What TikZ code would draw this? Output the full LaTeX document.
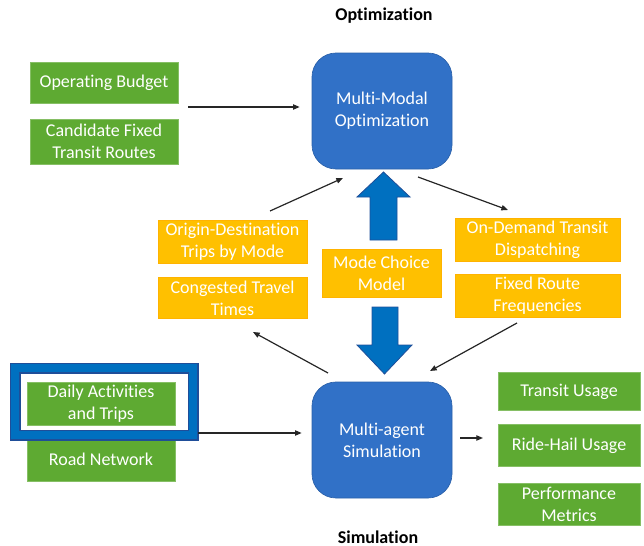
\documentclass[tikz,border=0pt]{standalone}
\usepackage{fontspec}
\setmainfont{Carlito}[Ligatures=NoCommon]
\definecolor{boxgreen}{RGB}{94, 170, 50}
\definecolor{boxgold}{RGB}{255, 192, 0}
\definecolor{modelblue}{RGB}{49, 113, 199}
\definecolor{arrowblue}{RGB}{0, 112, 192}
\definecolor{edgeblue}{RGB}{31, 78, 153}
\usetikzlibrary{arrows.meta, positioning, calc}

\tikzset{
  inbox/.style={fill=boxgreen, draw=boxgreen!75!white, line width=0.6pt, text=white, align=center, inner sep=0pt},
  midbox/.style={fill=boxgold, draw=boxgold!80!orange, line width=0.6pt, text=white, align=center, inner sep=0pt},
  modelbox/.style={fill=modelblue, draw=modelblue!85!black, line width=0.5pt, rounded corners=18pt, text=white, align=center,
    minimum width=105pt, minimum height=87pt},
  flow/.style={-{Triangle[length=5pt, width=4pt]}, line width=0.9pt, black!85},
  bigarrow/.style={fill=arrowblue, draw=edgeblue, line width=0.6pt},
}

\begin{document}
\begin{tikzpicture}[x=0.75pt, y=-0.75pt, font=\fontsize{13.5}{16.5}\selectfont]
  \useasboundingbox (0,0) rectangle (644,546);

  % headings
  \node[font=\fontsize{13.5}{16.5}\selectfont\bfseries] (opthead) at (384,16) {Optimization};
  \node[font=\fontsize{13.5}{16.5}\selectfont\bfseries] (simhead) at (378,537) {Simulation};

  % the two models
  \node[modelbox] (mmo) at (382,111) {Multi-Modal\\Optimization};
  \node[modelbox] (mas) at (382,440) {Multi-agent\\Simulation};

  % optimization inputs
  \node[inbox, minimum width=111pt, minimum height=30.75pt] (budget) at (104,83) {Operating Budget};
  \node[inbox, minimum width=111pt, minimum height=33.75pt] (routes) at (104,141.5) {Candidate Fixed\\Transit Routes};

  % exchanged between the models
  \node[midbox, minimum width=111.75pt, minimum height=32.25pt] (odtrips) at (232.5,242) {Origin-Destination\\Trips by Mode};
  \node[midbox, minimum width=111.75pt, minimum height=30.75pt] (travel) at (232.5,298) {Congested Travel\\Times};
  \node[midbox, minimum width=89.25pt, minimum height=36pt] (modechoice) at (381.5,273.5) {Mode Choice\\Model};
  \node[midbox, minimum width=123.75pt, minimum height=32.25pt] (dispatch) at (537.5,240) {On-Demand Transit\\Dispatching};
  \node[midbox, minimum width=123.75pt, minimum height=32.25pt] (freq) at (537.5,296) {Fixed Route\\Frequencies};

  % simulation inputs
  \node[inbox, minimum width=111pt, minimum height=32.25pt] (roads) at (101,459.5) {Road Network};
  \draw[edgeblue, line width=8.25pt] (15,368) rectangle (193,435);
  \draw[arrowblue, line width=6pt] (15,368) rectangle (193,435);
  \node[inbox, minimum width=111pt, minimum height=32.25pt] (activities) at (101,404) {Daily Activities\\and Trips};

  % simulation outputs
  \node[inbox, minimum width=106.5pt, minimum height=28.5pt] (transit) at (569,391.5) {Transit Usage};
  \node[inbox, minimum width=106.5pt, minimum height=31.5pt] (ridehail) at (569,445.5) {Ride-Hail Usage};
  \node[inbox, minimum width=106.5pt, minimum height=31.5pt] (perf) at (569,504.5) {Performance\\Metrics};

  % connector ends
  \coordinate (optin) at (188,107);
  \coordinate (odfrom) at (270,211);
  \coordinate (odto) at (343,178);
  \coordinate (dispfrom) at (418,177);
  \coordinate (dispto) at (508,210);
  \coordinate (freqfrom) at (517,323);
  \coordinate (freqto) at (430,371);
  \coordinate (travfrom) at (328,373);
  \coordinate (travto) at (253,332);
  \coordinate (simin) at (198,433);
  \coordinate (simout) at (460,438);
  \coordinate (outend) at (483,438);

  \draw[flow] (optin) -- ($(optin -| mmo.west)+(-12,0)$);
  \draw[flow] (odfrom) -- (odto);
  \draw[flow] (dispfrom) -- (dispto);
  \draw[flow] (freqfrom) -- (freqto);
  \draw[flow] (travfrom) -- (travto);
  \draw[flow] (simin) -- ($(simin -| mas.west)+(-10,0)$);
  \draw[flow] (simout) -- (outend);

  % block arrows through the mode choice model
  \draw[bigarrow] (370,240) -- (370,197) -- (357,197) -- (383.5,172) -- (410,197) -- (397,197) -- (397,240) -- cycle;
  \draw[bigarrow] (372,307) -- (372,345) -- (357,345) -- (384.5,374) -- (412,345) -- (398,345) -- (398,307) -- cycle;
\end{tikzpicture}
\end{document}
